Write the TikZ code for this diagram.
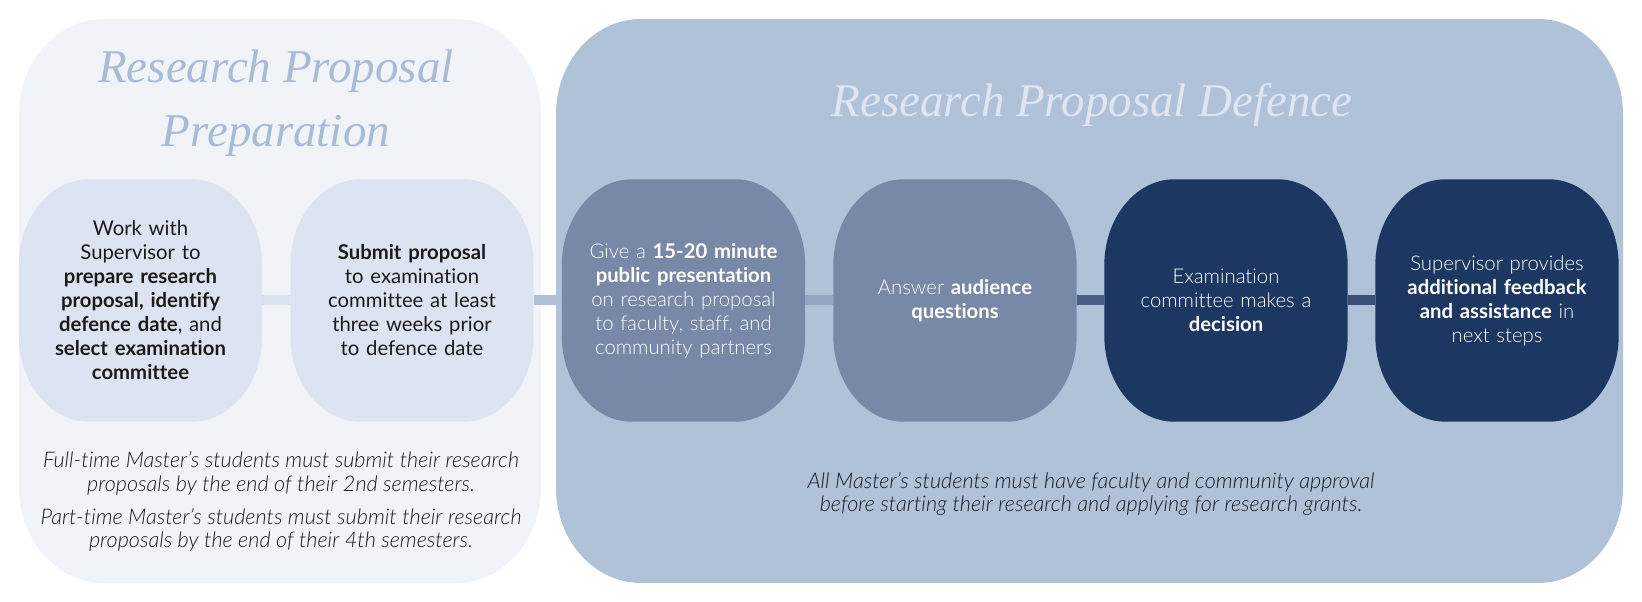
\documentclass[tikz,border=0pt]{standalone}
\usepackage{fontspec}
\newfontfamily\bodyfont{Lato}[Ligatures=NoCommon]
\newfontfamily\lightfont{Lato}[UprightFont=* Light, ItalicFont=* Light Italic, BoldFont=* Bold, Ligatures=NoCommon]
\newfontfamily\titlefont{Liberation Serif Italic}
\usetikzlibrary{backgrounds}
\definecolor{leftbg}{HTML}{F0F4F8}
\definecolor{rightbg}{HTML}{B0C2D8}
\definecolor{palenode}{HTML}{DDE4F1}
\definecolor{midnode}{HTML}{7889A7}
\definecolor{darknode}{HTML}{1B3762}
\definecolor{lefttitle}{HTML}{A9BBD5}
\definecolor{righttitle}{HTML}{DFE6F1}
\definecolor{segA}{HTML}{DAE2EF}
\definecolor{segB}{HTML}{AFC0D6}
\definecolor{segC}{HTML}{95A6C3}
\definecolor{segD}{HTML}{4B5D86}
\definecolor{segE}{HTML}{3C4F79}
\definecolor{inktext}{HTML}{1A1A1A}
% panel with elliptical corners: style, x1, y1, x2, y2, rx, ry
\newcommand\softbox[7]{\fill[#1] (#2+#6,#3) -- (#4-#6,#3)
  arc[start angle=-90,end angle=0,x radius=#6,y radius=#7] -- (#4,#5-#7)
  arc[start angle=0,end angle=90,x radius=#6,y radius=#7] -- (#2+#6,#5)
  arc[start angle=90,end angle=180,x radius=#6,y radius=#7] -- (#2,#3+#7)
  arc[start angle=180,end angle=270,x radius=#6,y radius=#7] -- cycle;}
% background of a step node: colour, node name
\newcommand\stepback[2]{\fill[#1] ([xshift=70pt]#2.south west) -- ([xshift=-70pt]#2.south east)
  arc[start angle=-90,end angle=0,x radius=70,y radius=86] -- ([yshift=-86pt]#2.north east)
  arc[start angle=0,end angle=90,x radius=70,y radius=86] -- ([xshift=70pt]#2.north west)
  arc[start angle=90,end angle=180,x radius=70,y radius=86] -- ([yshift=86pt]#2.south west)
  arc[start angle=180,end angle=270,x radius=70,y radius=86] -- cycle;}
\tikzset{
  stepnode/.style={minimum width=243pt, minimum height=242pt, inner sep=0pt,
    text width=225pt, align=center},
  paletext/.style={stepnode, text=inktext, font=\bodyfont\fontsize{20.3}{24}\selectfont},
  lighttext/.style={stepnode, text=white, font=\lightfont\fontsize{20.3}{24}\selectfont},
  titletext/.style={font=\titlefont\fontsize{47}{60}\selectfont, inner sep=0pt, anchor=base},
  notetext/.style={font=\lightfont\itshape\fontsize{21.6}{23.5}\selectfont, text=inktext,
    align=center, inner sep=0pt},
  link/.style={line width=10pt}
}
\begin{document}
\begin{tikzpicture}[x=1pt,y=1pt]
\useasboundingbox (0,0) rectangle (1642,602);
% titles
\node[titletext, text=lefttitle] (tl1) at (276,519) {Research Proposal};
\node[titletext, text=lefttitle] (tl2) at (276,455) {Preparation};
\node[titletext, text=righttitle] (tr) at (1092,485) {Research Proposal Defence};
% steps
\node[paletext] (s1) at (140.5,301.5) {Work with\\Supervisor to\\\textbf{prepare research}\\\textbf{proposal, identify}\\\textbf{defence date}, and\\\textbf{select examination}\\\textbf{committee}};
\node[paletext] (s2) at (412,301.5) {\textbf{Submit proposal}\\to examination\\committee at least\\three weeks prior\\to defence date};
\node[lighttext] (s3) at (683.5,301.5) {Give a \textbf{15-20 minute}\\\textbf{public presentation}\\on research proposal\\to faculty, staff, and\\community partners};
\node[lighttext] (s4) at (955,301.5) {Answer \textbf{audience}\\\textbf{questions}};
\node[lighttext] (s5) at (1226,301.5) {Examination\\committee makes a\\\textbf{decision}};
\node[lighttext] (s6) at (1497,301.5) {Supervisor provides\\\textbf{additional feedback}\\\textbf{and assistance} in\\next steps};
% notes
\node[notetext] (n1) at (281,128.5) {Full-time Master’s students must submit their research\\proposals by the end of their 2nd semesters.};
\node[notetext] (n2) at (281,72) {Part-time Master’s students must submit their research\\proposals by the end of their 4th semesters.};
\node[notetext] (n3) at (1091,108) {All Master’s students must have faculty and community approval\\before starting their research and applying for research grants.};
\begin{pgfonlayer}{background}
\softbox{leftbg}{19}{19}{541}{583}{85}{95}
\softbox{rightbg}{556}{19}{1623}{583}{85}{95}
\draw[link, segA] (s1.east) -- (s2.west);
\draw[link, segB] (s2.east) -- (s3.west);
\draw[link, segC] (s3.east) -- (s4.west);
\draw[link, segD] (s4.east) -- (s5.west);
\draw[link, segE] (s5.east) -- (s6.west);
\stepback{palenode}{s1}
\stepback{palenode}{s2}
\stepback{midnode}{s3}
\stepback{midnode}{s4}
\stepback{darknode}{s5}
\stepback{darknode}{s6}
\end{pgfonlayer}
\end{tikzpicture}
\end{document}
